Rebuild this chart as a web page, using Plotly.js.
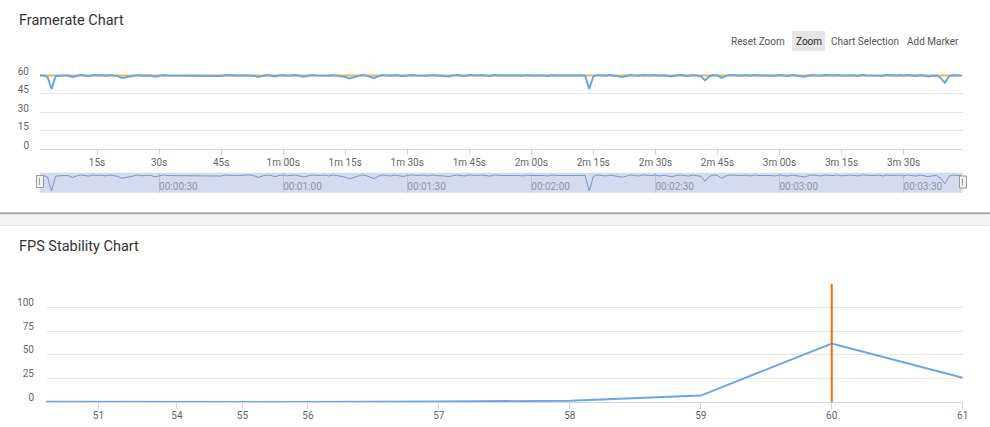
<!DOCTYPE html>
<html>
<head>
<meta charset="utf-8">
<script src="https://cdn.plot.ly/plotly-3.0.1.min.js"></script>
<style>
html,body{margin:0;padding:0;background:#fff;}
#chart{width:990px;height:427px;}
</style>
</head>
<body>
<div id="chart"></div>
<script>
// ---- Framerate chart data (per second) ----
var fpsTimeStart = 1;
var fpsValues = [
  60, 60, 59, 49, 59.6, 60, 60, 60, 58.6, 59.6, 60.4, 60, 59.6, 60.4, 60, 60.3,
  59.7, 60.4, 60, 59.4, 58, 58.6, 59.4, 60, 60.4, 59.8, 60.2, 60, 59, 59.7, 60.4, 60,
  60, 60, 60, 60, 60, 60, 60, 60, 60, 60, 60, 60, 59.6, 60.3, 60, 60,
  60, 60, 60, 60.4, 59.8, 58.7, 59.6, 60.4, 60, 59.2, 60, 60.4, 59.8, 60.2, 60.4, 59.6,
  59, 59.7, 60.4, 60, 60, 60.3, 59.7, 60.4, 60, 59.6, 58.8, 57.6, 58.6, 59.2, 60.4, 60,
  59, 57.8, 59.4, 60.4, 60, 59.7, 60.4, 60, 59.3, 60, 60.4, 60, 60, 60.3, 59.7, 60.4,
  60, 60, 59.6, 59.2, 60, 60.4, 60, 59.7, 60.4, 60, 60, 60.3, 60, 59.6, 60.4, 60,
  60, 60, 60, 60.4, 60, 59.7, 60.3, 60, 60, 60.4, 60, 59.6, 60.4, 60, 60, 60,
  60, 60.3, 59.8, 60, 60, 49, 59.4, 60.4, 60, 59.7, 60.3, 59.8, 59.2, 58.8, 59.6, 60.4,
  60, 59.7, 60.4, 60, 60, 60.3, 59.7, 60.2, 59.6, 59.1, 60, 60.4, 60, 59.6, 60.3, 60,
  59.4, 56, 59.2, 60.4, 60, 58, 59.6, 60.4, 60, 60, 60, 60.3, 59.7, 60.4, 60, 60,
  60.3, 60, 59.7, 60.4, 60, 59.6, 60.3, 60, 59.6, 59, 59.8, 60.4, 60, 59.7, 60.3, 60,
  60, 60.4, 59.8, 60, 60.3, 60, 59.7, 60.4, 60, 60, 60, 60.3, 59.7, 60.4, 60, 60,
  60.3, 59.7, 60.4, 60, 59.6, 60.3, 59.8, 59.2, 59.8, 60, 58, 54, 59.4, 60.4, 60, 60
];
var targetTimes  = [1, 10, 20, 30, 40, 50, 60, 70, 80, 90, 100, 110, 120, 130, 140, 150, 160, 170, 180, 190, 200, 210, 220, 224];
var targetValues = [60, 60, 60.1, 60, 60, 60, 60.1, 60, 60, 60, 60, 60.1, 60, 60, 60, 60.1, 60, 60, 60, 60.1, 60, 60, 60, 60];
var timeTicks = [15, 30, 45, 60, 75, 90, 105, 120, 135, 150, 165, 180, 195, 210];
var navTicks  = [30, 60, 90, 120, 150, 180, 210];
var fpsYTicks = [0, 15, 30, 45, 60, 75];

// ---- FPS stability chart data ----
var stabilityLabels = ['', '51', '54', '55', '56', '57', '58', '59', '60', '61'];
var stabilitySlots  = [1, 1.4, 2, 2.5, 3, 4, 5, 6, 7, 8];
var stabilityValues = [0.3, 0.1, 0, 0, 0, 0.5, 1.3, 6.8, 62, 25.7];
var markerLabel = '60';
var stabYTicks = [0, 25, 50, 75, 100, 125];

var fpsTimes = fpsValues.map(function(v, i){ return fpsTimeStart + i; });
function fmtShort(s){
  if (s < 60) return s + 's';
  var m = Math.floor(s/60), r = s % 60;
  return m + 'm ' + (r < 10 ? '0' : '') + r + 's';
}
function fmtClock(s){
  var h = Math.floor(s/3600), m = Math.floor((s%3600)/60), r = s % 60;
  function p(n){ return (n < 10 ? '0' : '') + n; }
  return p(h) + ':' + p(m) + ':' + p(r);
}
var markerSlot = stabilitySlots[stabilityLabels.indexOf(markerLabel)];

var W = 990, H = 427;
function px(x){ return x / W; }
function py(y){ return 1 - y / H; }

var FONT = 'Roboto, "Open Sans", Arial, sans-serif';
var BLUE = '#6aa7e6', ORANGE = '#f5b54a';

var traces = [
  {x: targetTimes, y: targetValues, xaxis: 'x', yaxis: 'y', mode: 'lines',
   line: {color: ORANGE, width: 2}, hoverinfo: 'skip'},
  {x: fpsTimes, y: fpsValues, xaxis: 'x', yaxis: 'y', mode: 'lines',
   line: {color: BLUE, width: 2}, hoverinfo: 'skip'},
  {x: fpsTimes, y: fpsValues, xaxis: 'x3', yaxis: 'y3', mode: 'lines',
   line: {color: '#7d96cc', width: 1}, hoverinfo: 'skip'},
  {x: stabilitySlots, y: stabilityValues, xaxis: 'x2', yaxis: 'y2', mode: 'lines',
   line: {color: BLUE, width: 2}, hoverinfo: 'skip'},
  {x: [markerSlot, markerSlot], y: [0, 125], xaxis: 'x2', yaxis: 'y2', mode: 'lines',
   line: {color: '#f26b0f', width: 2}, hoverinfo: 'skip'}
];

var axisFont = {family: FONT, size: 10, color: '#666'};
var layout = {
  width: W, height: H,
  margin: {l: 0, r: 0, t: 0, b: 0},
  paper_bgcolor: '#fff', plot_bgcolor: 'rgba(0,0,0,0)',
  showlegend: false,
  font: {family: FONT},
  xaxis: {domain: [px(40), px(962.7)], anchor: 'y', range: [1.2, 224.3],
    tickmode: 'array', tickvals: timeTicks, ticktext: timeTicks.map(fmtShort),
    showgrid: false, zeroline: false, showline: true, linecolor: '#ccd6eb', linewidth: 1,
    ticks: 'outside', ticklen: 5, tickcolor: '#ccd6eb', tickfont: axisFont, ticklabelstandoff: -1, fixedrange: true},
  yaxis: {domain: [py(149.3), py(57)], anchor: 'x', range: [0, 75],
    tickmode: 'array', tickvals: fpsYTicks, ticktext: fpsYTicks.map(function(v){ return v === 75 ? '' : String(v); }),
    showgrid: true, gridcolor: '#e6e6e6', zeroline: false, showline: false,
    ticks: '', tickfont: axisFont, ticklabelshift: -4, ticklabelstandoff: 10, fixedrange: true},
  xaxis3: {domain: [px(40), px(962.7)], anchor: 'y3', range: [1.2, 224.3],
    tickmode: 'array', tickvals: navTicks, ticktext: navTicks.map(fmtClock),
    showgrid: true, gridcolor: 'rgba(120,130,160,0.25)', zeroline: false, showline: false,
    ticks: '', ticklabelposition: 'inside right', ticklabelstandoff: -5,
    tickfont: {family: FONT, size: 10, color: '#8f95a5'}, fixedrange: true},
  yaxis3: {domain: [py(192.7), py(172.7)], anchor: 'x3', range: [47.8, 62],
    showgrid: false, zeroline: false, showticklabels: false, showline: false, fixedrange: true},
  xaxis2: {domain: [px(46), px(962.7)], anchor: 'y2', range: [1, 8],
    tickmode: 'array', tickvals: stabilitySlots.slice(1), ticktext: stabilityLabels.slice(1),
    showgrid: false, zeroline: false, showline: true, linecolor: '#ccd6eb', linewidth: 1,
    ticks: 'outside', ticklen: 6, tickcolor: '#ccd6eb', tickfont: axisFont, ticklabelstandoff: -2, fixedrange: true},
  yaxis2: {domain: [py(402), py(284)], anchor: 'x2', range: [0, 125],
    tickmode: 'array', tickvals: stabYTicks, ticktext: stabYTicks.map(function(v){ return v === 125 ? '' : String(v); }),
    showgrid: true, gridcolor: '#e6e6e6', zeroline: false, showline: false,
    ticks: '', tickfont: axisFont, ticklabelshift: -5, ticklabelstandoff: 11, fixedrange: true},
  shapes: [
    {type: 'rect', xref: 'x3 domain', yref: 'y3 domain', x0: 0, x1: 1, y0: 0, y1: 1,
     fillcolor: '#d3dbee', line: {width: 0}, layer: 'below'},
    // navigator handles
    {type: 'rect', xref: 'paper', yref: 'paper', x0: px(36.5), x1: px(43.5), y0: py(187.5), y1: py(175.5),
     fillcolor: '#f2f2f2', line: {color: '#999', width: 1}},
    {type: 'line', xref: 'paper', yref: 'paper', x0: px(39.5), x1: px(39.5), y0: py(185), y1: py(178),
     line: {color: '#999', width: 1}},
    {type: 'rect', xref: 'paper', yref: 'paper', x0: px(959.5), x1: px(966.5), y0: py(188), y1: py(176),
     fillcolor: '#f2f2f2', line: {color: '#999', width: 1}},
    {type: 'line', xref: 'paper', yref: 'paper', x0: px(962.5), x1: px(962.5), y0: py(185.5), y1: py(178.5),
     line: {color: '#999', width: 1}},
    // Zoom button background
    {type: 'rect', xref: 'paper', yref: 'paper', x0: px(792), x1: px(825), y0: py(51), y1: py(31),
     fillcolor: '#e6e6e6', line: {width: 0}, layer: 'below'},
    // separator
    {type: 'rect', xref: 'paper', yref: 'paper', x0: 0, x1: 1, y0: py(225), y1: py(214),
     fillcolor: '#f4f4f4', line: {width: 0}},
    {type: 'line', xref: 'paper', yref: 'paper', x0: 0, x1: 1, y0: py(213.2), y1: py(213.2),
     line: {color: '#aaaaaa', width: 2}},
    {type: 'line', xref: 'paper', yref: 'paper', x0: 0, x1: 1, y0: py(225.5), y1: py(225.5),
     line: {color: '#ebebeb', width: 1}}
  ],
  annotations: [
    {text: 'Framerate Chart', xref: 'paper', yref: 'paper', x: px(17), y: py(20), xanchor: 'left', yanchor: 'middle',
     showarrow: false, font: {family: FONT, size: 14.5, color: '#333'}},
    {text: 'FPS Stability Chart', xref: 'paper', yref: 'paper', x: px(17), y: py(246), xanchor: 'left', yanchor: 'middle',
     showarrow: false, font: {family: FONT, size: 14.5, color: '#333'}},
    {text: 'Reset Zoom', xref: 'paper', yref: 'paper', x: px(758), y: py(41), xanchor: 'center', yanchor: 'middle',
     showarrow: false, font: {family: FONT, size: 10, color: '#555'}},
    {text: 'Zoom', xref: 'paper', yref: 'paper', x: px(808.5), y: py(41), xanchor: 'center', yanchor: 'middle',
     showarrow: false, font: {family: FONT, size: 10, color: '#222'}},
    {text: 'Chart Selection', xref: 'paper', yref: 'paper', x: px(864.5), y: py(41), xanchor: 'center', yanchor: 'middle',
     showarrow: false, font: {family: FONT, size: 10, color: '#555'}},
    {text: 'Add Marker', xref: 'paper', yref: 'paper', x: px(932.5), y: py(41), xanchor: 'center', yanchor: 'middle',
     showarrow: false, font: {family: FONT, size: 10, color: '#555'}}
  ]
};

Plotly.newPlot('chart', traces, layout, {displayModeBar: false, staticPlot: true});
</script>
</body>
</html>
